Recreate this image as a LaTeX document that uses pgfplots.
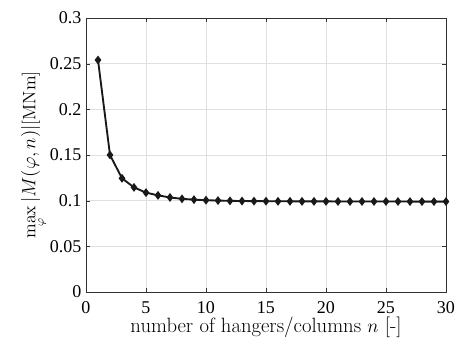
\documentclass[border=0pt]{standalone}
\usepackage{fontspec}
\newfontfamily\tickfont{Liberation Serif}
\usepackage{pgfplots}
\pgfplotsset{compat=1.18}
\begin{document}
\begin{tikzpicture}
\path[use as bounding box] (-64.5pt,-37.5pt) rectangle (276.75pt,219pt);
\begin{axis}[
  at={(0pt,0pt)}, anchor=south west,
  scale only axis, width=270pt, height=205.5pt,
  xmin=0, xmax=30, ymin=0, ymax=0.3,
  xtick={0,5,...,30},
  ytick={0,0.05,0.1,0.15,0.2,0.25,0.3},
  yticklabels={0,0.05,0.1,0.15,0.2,0.25,0.3},
  /pgf/number format/assume math mode=true,
  tick label style={font=\fontsize{13.5}{15}\tickfont},
  xticklabel style={yshift=-3.5pt},
  label style={font=\fontsize{15.5}{17}\selectfont},
  tick align=inside, tick pos=both,
  major tick length=3pt,
  grid=major, major grid style={gray!25, line width=0.6pt},
  axis line style={line width=0.6pt, black!80},
  tick style={black!80},
  xlabel={number of hangers/columns $n$ [-]},
  ylabel={$\displaystyle\max_{\varphi}|M(\varphi,n)|$[MNm]},
  xlabel style={yshift=4pt},
  ylabel style={yshift=-5pt, font=\fontsize{13.5}{15}\selectfont},
]
\addplot[color=black!90, line width=1.4pt, mark=diamond*, mark size=2.2pt] coordinates {
(1,0.254) (2,0.150) (3,0.1245) (4,0.1145) (5,0.1088) (6,0.1058) (7,0.1035) (8,0.1020)
(9,0.1011) (10,0.1005) (11,0.1001) (12,0.0998) (13,0.0996) (14,0.0995) (15,0.0994)
(16,0.0993) (17,0.0993) (18,0.0992) (19,0.0992) (20,0.0992) (21,0.0991) (22,0.0991)
(23,0.0991) (24,0.0991) (25,0.0991) (26,0.0991) (27,0.0990) (28,0.0990) (29,0.0990) (30,0.0990)
};
\end{axis}
\end{tikzpicture}
\end{document}
